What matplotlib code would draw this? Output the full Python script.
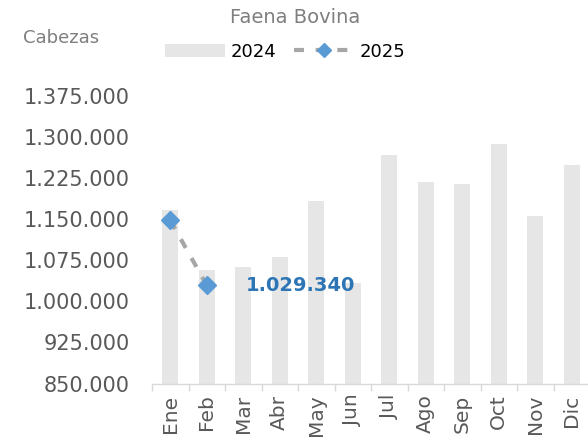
import numpy as np
import matplotlib
matplotlib.use('Agg')
import matplotlib.pyplot as plt
from matplotlib.ticker import FuncFormatter, FixedLocator

# --- Data ---
months = ['Ene', 'Feb', 'Mar', 'Abr', 'May', 'Jun', 'Jul', 'Ago', 'Sep', 'Oct', 'Nov', 'Dic']
faena_2024 = [1167600, 1056900, 1062900, 1080600, 1182700, 1033800,
              1266500, 1217300, 1214200, 1287100, 1155900, 1249600]
faena_2025 = [1148000, 1029340]
yticks = [850000, 925000, 1000000, 1075000, 1150000, 1225000, 1300000, 1375000]

gray_txt = '#7f7f7f'

def miles(v, pos=None):
    return f"{int(v):,}".replace(',', '.')

# --- Figure ---
fig = plt.figure(figsize=(5.88, 4.47), dpi=100)
ax = fig.add_axes([0.2585, 1 - 383.5 / 447, 0.745, (383.5 - 96) / 447])

x = np.arange(len(months))
bars = ax.bar(x, faena_2024, width=0.44, color='#e6e6e6', label='2024')
line, = ax.plot(np.arange(len(faena_2025)), faena_2025, color='#a6a6a6', lw=3,
                dashes=(2.4, 2.8), marker='D', markersize=9.5,
                markerfacecolor='#5b9bd5', markeredgecolor='#5b9bd5', label='2025')

# data label for last value
ax.annotate(miles(faena_2025[-1]), (len(faena_2025) - 1, faena_2025[-1]),
            xytext=(28, 0), textcoords='offset points', va='center', ha='left',
            fontsize=14, fontweight='bold', color='#2e75b6')

ax.set_xlim(-0.5, len(months) - 0.5)
ax.set_ylim(850000, 1375000)
ax.yaxis.set_major_locator(FixedLocator(yticks))
ax.yaxis.set_major_formatter(FuncFormatter(miles))
ax.tick_params(axis='y', length=0, pad=16, labelsize=15, labelcolor='#595959')

ax.set_xticks(x)
ax.set_xticklabels(months, rotation=90, fontsize=14.5, color='#595959')
ax.set_xticks(np.arange(len(months) + 1) - 0.5, minor=True)
ax.tick_params(axis='x', which='major', length=0, pad=8)
ax.tick_params(axis='x', which='minor', length=5, color='#d9d9d9', width=1)

for s in ['top', 'right', 'left']:
    ax.spines[s].set_visible(False)
ax.spines['bottom'].set_color('#d9d9d9')
ax.spines['bottom'].set_linewidth(1)

fig.text(0.502, 0.96, 'Faena Bovina', ha='center', va='center', fontsize=14, color=gray_txt)
fig.text(0.104, 0.916, 'Cabezas', ha='center', va='center', fontsize=13, color=gray_txt)

leg = fig.legend(handles=[bars, line], loc='center', bbox_to_anchor=(0.485, 0.884),
                 ncol=2, frameon=False, fontsize=13, handlelength=3.3,
                 handleheight=0.8, columnspacing=1.0, handletextpad=0.3)
leg.legend_handles[1].set_markersize(7)

fig.savefig('out.png', dpi=100)
